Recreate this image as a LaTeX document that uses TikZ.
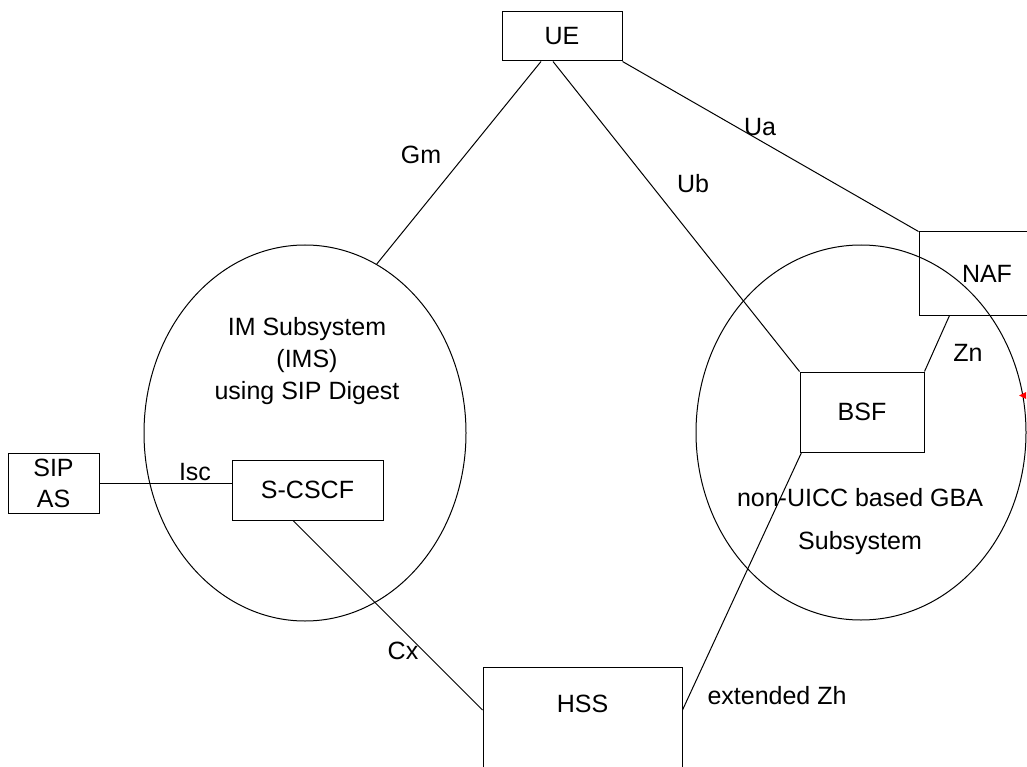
\documentclass[tikz,border=0pt]{standalone}
\usepackage{fontspec}
\setmainfont{Liberation Sans}
\usetikzlibrary{shapes.geometric}
\tikzset{
  every node/.style={font=\fontsize{25}{29}\selectfont},
  box/.style={draw, line width=1pt, rectangle, inner sep=0pt},
  oval/.style={draw, line width=1pt, ellipse, inner sep=0pt},
  lbl/.style={anchor=base, inner sep=0pt},
  conn/.style={line width=1pt},
}
\begin{document}
\begin{tikzpicture}[x=1pt,y=-1pt]
\useasboundingbox (0,0) rectangle (1027,767);
\fill[white] (0,0) rectangle (1027,767);
\clip (0,0) rectangle (1027,767);

% ellipses
\node[oval, minimum width=322pt, minimum height=376pt] (ims) at (305,433) {};
\node[oval, minimum width=330pt, minimum height=375pt] (gba) at (861,432.5) {};

% boxes
\node[box, fill=white, minimum width=120pt, minimum height=49pt] (ue) at (562,36.5) {UE};
\node[box, minimum width=136pt, minimum height=83pt] (naf) at (987,273.5) {NAF};
\node[box, fill=white, minimum width=124pt, minimum height=80pt] (bsf) at (862,412) {BSF};
\node[box, fill=white, minimum width=91pt, minimum height=60pt, align=center,
      font=\fontsize{25}{31}\selectfont] (sipas) at (53.5,483) {SIP\\AS};
\node[box, fill=white, minimum width=151pt, minimum height=60pt] (scscf) at (307.5,490) {S-CSCF};
\node[box, minimum width=199pt, minimum height=140pt] (hss) at (582.5,737) {};
\node[lbl] (hsstext) at (582.5,712) {HSS};

% ellipse texts
\node[lbl] (ims1) at (307,335) {IM Subsystem};
\node[lbl] (ims2) at (307,367) {(IMS)};
\node[lbl] (ims3) at (307,399) {using SIP Digest};
\node[lbl] (gba1) at (860,506) {non-UICC based GBA};
\node[lbl] (gba2) at (860,549) {Subsystem};

% connectors
\draw[conn] ([xshift=-21pt]ue.south) -- (ims.67);
\draw[conn] ([xshift=-9pt]ue.south) -- (bsf.north west);
\draw[conn] (ue.south east) -- (naf.north west);
\draw[conn] (bsf.north east) -- ([xshift=31pt]naf.south west);
\draw[conn] (sipas.east) -- (sipas.east -| scscf.west);
\draw[conn] ([xshift=-14.5pt]scscf.south) -- ([yshift=27pt]hss.west);
\draw[conn] ([yshift=27pt]hss.east) -- ([xshift=2pt]bsf.south west);

% connector labels
\node[lbl] (gm) at (421,164) {Gm};
\node[lbl] (ub) at (693,193) {Ub};
\node[lbl] (ua) at (760,136) {Ua};
\node[lbl] (zn) at (968,361) {Zn};
\node[lbl] (isc) at (195,480) {Isc};
\node[lbl] (cx) at (403,659) {Cx};
\node[lbl] (zh) at (777,704.5) {extended Zh};

% small red mark
\fill[red] (1019,395.5) -- (1026,392) -- (1026,399) -- cycle;
\end{tikzpicture}
\end{document}
